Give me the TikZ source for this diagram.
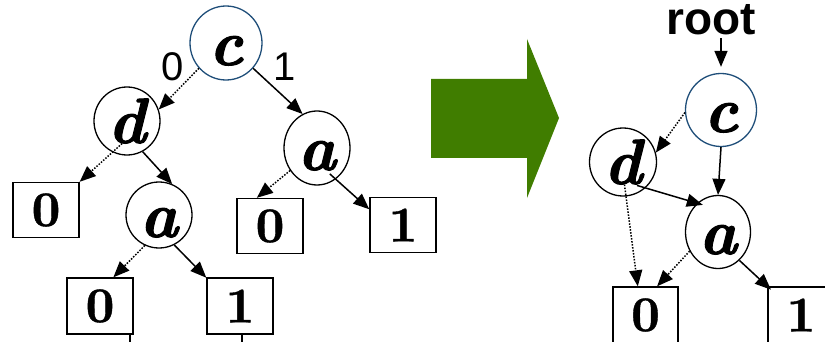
\documentclass[tikz,border=0pt]{standalone}
\usepackage{fontspec}
\usetikzlibrary{shapes.geometric,arrows.meta}
\newfontfamily\arialf{Liberation Sans}
\newfontfamily\vfont[FakeBold=1.6]{lmroman10-bolditalic.otf}
\newfontfamily\bfont[FakeBold=0.8]{lmroman10-bold.otf}
\definecolor{blueline}{RGB}{31,78,121}
\definecolor{arrowgreen}{RGB}{64,125,0}
\tikzset{
  vtx/.style={ellipse, draw, line width=1.3pt, inner sep=0pt, minimum width=66pt, minimum height=66pt,
    font=\vfont\fontsize{64}{64}\selectfont},
  rootv/.style={vtx, draw=blueline},
  leaf/.style={rectangle, draw, line width=1.4pt, minimum width=66pt, minimum height=55pt, inner sep=0pt,
    font=\bfont\fontsize{50}{50}\selectfont},
  hi/.style={-{Triangle[length=16pt,width=13pt]}, line width=1.5pt},
  lo/.style={hi, dash pattern=on 1.5pt off 1.5pt},
  lbl/.style={font=\arialf\fontsize{40}{40}\selectfont, inner sep=0pt},
  plain/.style={line width=1.4pt},
}
\newcommand{\vl}[1]{\vphantom{d}#1}
\begin{document}
\begin{tikzpicture}[x=1pt,y=-1pt]
\useasboundingbox (0,0) rectangle (825,342);
% left tree
\node[rootv, minimum width=72pt, minimum height=74pt] (c1) at (226,43) {\vl{c}};
\node[vtx, minimum height=68pt] (d1) at (127,121) {\vl{d}};
\node[vtx, minimum height=74pt] (a1) at (317,148) {\vl{a}};
\node[vtx] (a2) at (159,215) {\vl{a}};
\node[leaf] (b1) at (46,210) {0};
\node[leaf] (b2) at (270,226) {0};
\node[leaf] (b3) at (403,225) {1};
\node[leaf, minimum height=56pt] (b4) at (100,306) {0};
\node[leaf, minimum height=56pt] (b5) at (240,306) {1};
\node[lbl] (l0) at (173,67) {0};
\node[lbl] (l1) at (285,67) {1};
\draw[lo] (c1.223) -- (d1.20);
\draw[hi] (c1.317) -- (a1.113);
\draw[lo, shorten <=-16pt] (d1.245) -- (b1.north east);
\draw[hi] (d1.297) -- (a2.67);
\draw[lo] (a1.220) -- (b2.115);
\draw[hi, shorten <=-8pt] (a1.301) -- (b3.155);
\draw[lo] (a2.245) -- (b4.65);
\draw[hi] (a2.297) -- (b5.140);
\coordinate (t1) at (130,350);
\coordinate (t2) at (242,350);
\draw[plain] (b4.south -| t1) -- (t1);
\draw[plain] (b5.south -| t2) -- (t2);
% green arrow
\fill[arrowgreen] (431,79) -- (527,79) -- (527,39) -- (559,118) -- (527,198) -- (527,158) -- (431,158) -- cycle;
% right diagram
\node[font=\arialf\bfseries\fontsize{46}{46}\selectfont, inner sep=0pt] (root) at (711,20) {root};
\node[rootv, minimum width=71pt, minimum height=73pt] (c2) at (721,110) {\vl{c}};
\node[vtx, minimum width=67pt, minimum height=68pt] (d2) at (623,162) {\vl{d}};
\node[vtx, minimum width=65pt, minimum height=73pt] (a3) at (718,232) {\vl{a}};
\node[leaf, minimum width=65pt, minimum height=56pt] (b6) at (645.5,315) {0};
\node[leaf, minimum height=56pt] (b7) at (801,315) {1};
\draw[hi, shorten <=3pt, shorten >=6pt] (root.south -| c2.north) -- (c2.north);
\draw[lo] (c2.184) -- (d2.16);
\draw[hi] (c2.south) -- (a3.north);
\draw[hi, shorten <=-9pt, shorten >=-6pt] (d2.311) -- (a3.126);
\draw[lo, shorten <=-12pt] (d2.275) -- (b6.105);
\draw[lo] (a3.214) -- (b6.68);
\draw[hi, shorten >=-5pt] (a3.307) -- (b7.north west);
\end{tikzpicture}
\end{document}
